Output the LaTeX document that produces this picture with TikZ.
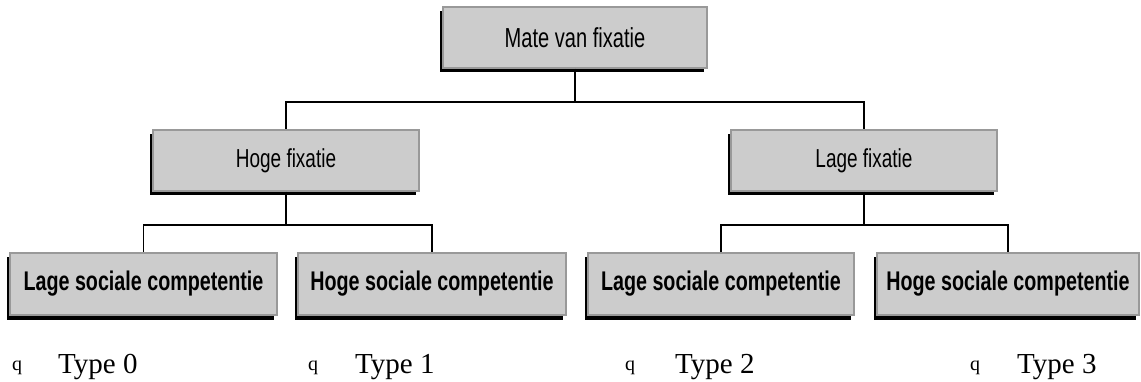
\documentclass[tikz,border=0pt]{standalone}
\usepackage{fontspec}
\setmainfont{Liberation Serif}
\newfontfamily\boxfont[FakeStretch=0.73]{Liberation Sans}
\usepackage{tikz}
\usetikzlibrary{shadows}
\tikzset{
  baseline = (current bounding box.center),
}

\begin{document}
\begin{tikzpicture}[
      x=1pt, y=-1pt,
      blok/.style={fill=gray!40,draw=gray!80,line width=2pt,inner sep=0pt,
        drop shadow={shadow xshift=-3.5pt,shadow yshift=-4.5pt,fill=black,opacity=1},
        minimum height=61pt,font=\boxfont\fontsize{26}{30}\selectfont},
      groot/.style={blok,font=\boxfont\fontsize{27.5}{32}\selectfont},
      vet/.style={blok,minimum height=62pt,font=\boxfont\bfseries\fontsize{27}{31}\selectfont},
      tak/.style={line width=1.6pt},
      typ/.style={anchor=base west,inner sep=0pt,font=\fontsize{29}{33}\selectfont},
      bol/.style={anchor=base west,inner sep=0pt,font=\fontsize{20}{24}\selectfont}
      ]
      \useasboundingbox (0,0) rectangle (1141,382);
      \node[groot,minimum width=264pt] (mate) at (575,37.5) {Mate van fixatie};
      \node[blok,minimum width=266pt] (hoog) at (286,160.5) {Hoge fixatie};
      \node[blok,minimum width=266pt] (laag) at (864,160.5) {Lage fixatie};
      \node[vet,minimum width=267pt] (hlc) at (143.5,284) {Lage sociale competentie};
      \node[vet,minimum width=268pt] (hhc) at (432,284) {Hoge sociale competentie};
      \node[vet,minimum width=266pt] (llc) at (721,284) {Lage sociale competentie};
      \node[vet,minimum width=262pt] (lhc) at (1008,284) {Hoge sociale competentie};
      \draw[tak] (mate.south) -- ++(0,33) -| (hoog.north);
      \draw[tak] (mate.south) -- ++(0,33) -| (laag.north);
      \draw[tak] (hoog.south) -- ++(0,33) -| (hlc.north);
      \draw[tak] (hoog.south) -- ++(0,33) -| (hhc.north);
      \draw[tak] (laag.south) -- ++(0,33) -| (llc.north);
      \draw[tak] (laag.south) -- ++(0,33) -| (lhc.north);
      \node[bol] (q0) at (12,370.5) {q};
      \node[typ] (t0) at (58,373) {Type 0};
      \node[bol] (q1) at (308,370.5) {q};
      \node[typ] (t1) at (355,373) {Type 1};
      \node[bol] (q2) at (625,370.5) {q};
      \node[typ] (t2) at (675,373) {Type 2};
      \node[bol] (q3) at (970,370.5) {q};
      \node[typ] (t3) at (1017,373) {Type 3};
    \end{tikzpicture}
\end{document}
